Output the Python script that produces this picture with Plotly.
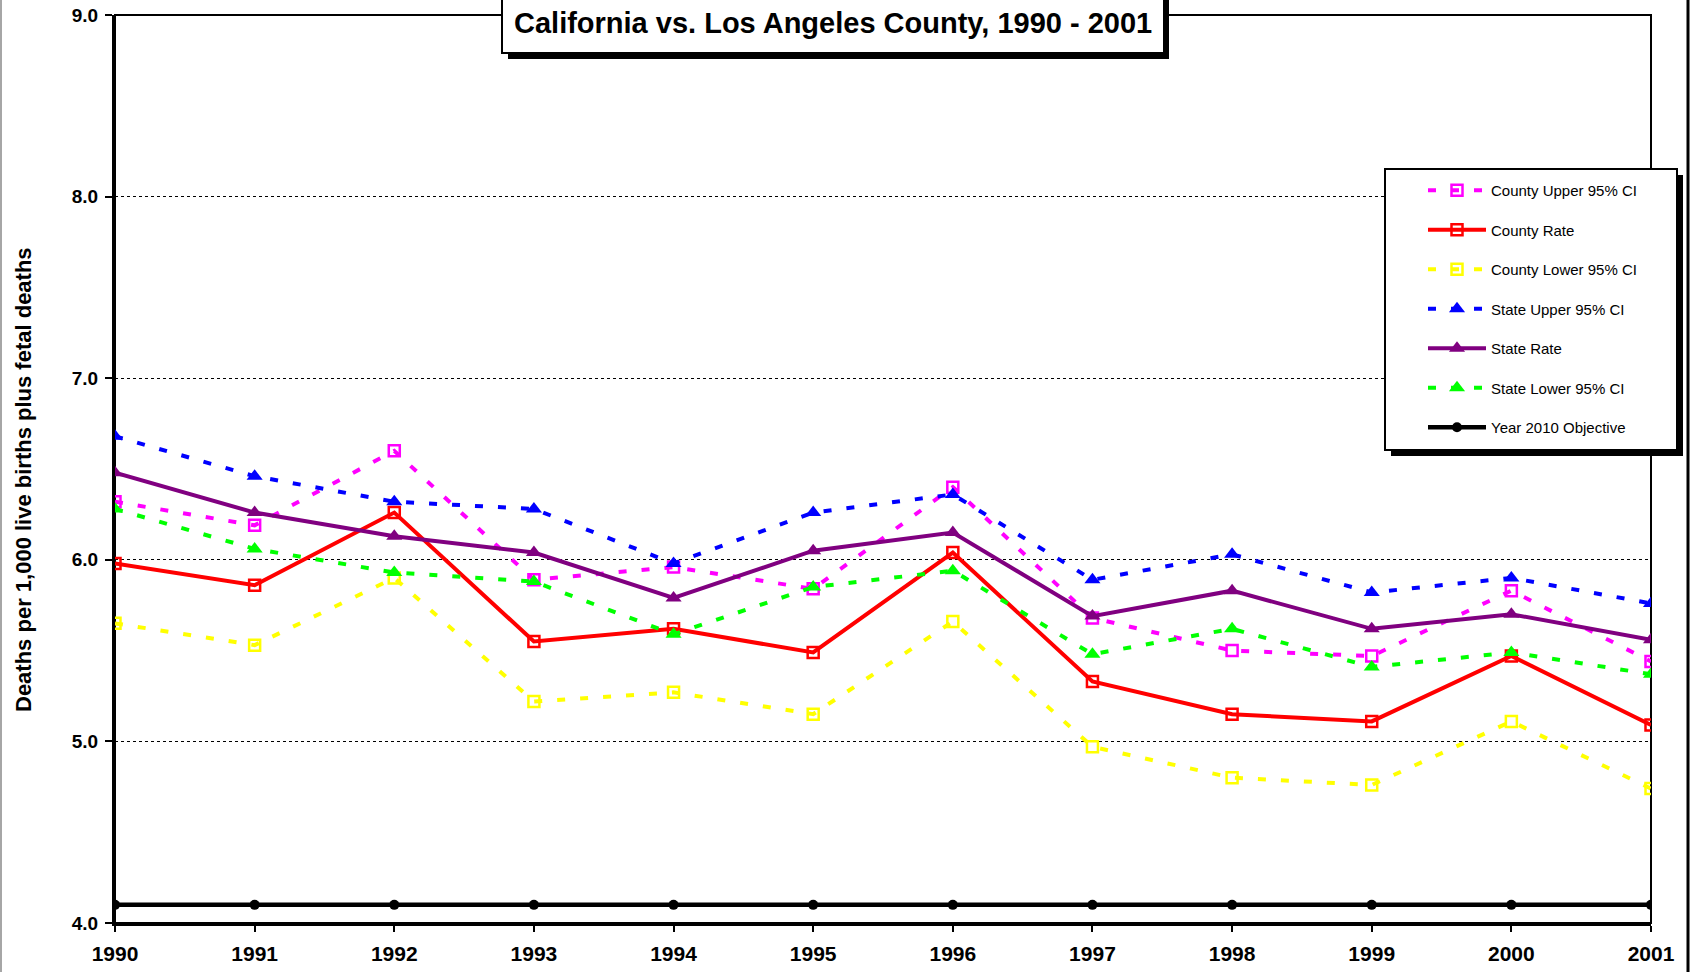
import plotly.graph_objects as go

years = list(range(1990, 2002))
year_labels = [str(y) for y in years]
county_upper = [6.32, 6.19, 6.60, 5.89, 5.96, 5.84, 6.40, 5.68, 5.50, 5.47, 5.83, 5.44]
county_rate = [5.98, 5.86, 6.26, 5.55, 5.62, 5.49, 6.04, 5.33, 5.15, 5.11, 5.47, 5.09]
county_lower = [5.65, 5.53, 5.90, 5.22, 5.27, 5.15, 5.66, 4.97, 4.80, 4.76, 5.11, 4.74]
state_upper = [6.68, 6.46, 6.32, 6.28, 5.98, 6.26, 6.36, 5.89, 6.03, 5.82, 5.90, 5.76]
state_rate = [6.48, 6.26, 6.13, 6.04, 5.79, 6.05, 6.15, 5.69, 5.83, 5.62, 5.70, 5.56]
state_lower = [6.28, 6.06, 5.93, 5.88, 5.59, 5.85, 5.94, 5.48, 5.62, 5.41, 5.49, 5.37]
objective = [4.1] * 12

series_names = ["County Upper 95% CI", "County Rate", "County Lower 95% CI",
                "State Upper 95% CI", "State Rate", "State Lower 95% CI",
                "Year 2010 Objective"]
title_text = "California vs. Los Angeles County, 1990 - 2001"
y_title = "Deaths per 1,000 live births plus fetal deaths"

W, H = 1690, 972
L, R, T, B = 115, 1651, 15, 923


def px(x):
    return (x - L) / (R - L)


def py(y):
    return (B - y) / (B - T)


DASH = "8px,15px"
specs = [
    (county_upper, "#FF00FF", DASH, "square-open", 11, 4),
    (county_rate, "#FF0000", "solid", "square-open", 11, 4),
    (county_lower, "#FFFF00", DASH, "square-open", 11, 4),
    (state_upper, "#0000FF", DASH, "triangle-up", 14, 4),
    (state_rate, "#800080", "solid", "triangle-up", 14, 4),
    (state_lower, "#00FF00", DASH, "triangle-up", 14, 4),
    (objective, "#000000", "solid", "circle", 10, 4.5),
]

fig = go.Figure()
for i, (vals, col, dash, sym, size, lw) in enumerate(specs):
    fig.add_trace(go.Scatter(
        x=years, y=vals, name=series_names[i], mode="lines+markers",
        legendgroup=f"g{i}",
        line=dict(color=col, width=lw, dash=dash),
        marker=dict(symbol=sym, size=size, color=col,
                    line=dict(color=col, width=2.5 if "open" in sym else 0)),
        hoverinfo="skip",
    ))

FAM = "Liberation Sans, Arial, sans-serif"
bold = dict(family=FAM, size=19, color="black", weight="bold")

fig.update_xaxes(
    range=[1990, 2001], tickvals=years, ticktext=year_labels,
    showline=True, linecolor="black", linewidth=3,
    ticks="outside", ticklen=6, tickwidth=1.5, tickcolor="black",
    tickfont=dict(bold, size=21), ticklabelstandoff=4,
    showgrid=False, zeroline=False,
)
fig.update_yaxes(
    range=[4, 9], dtick=1, tick0=4, tickformat=".1f",
    showline=True, linecolor="black", linewidth=3,
    ticks="outside", ticklen=7, tickwidth=1.5, tickcolor="black",
    tickfont=bold, ticklabelstandoff=3,
    showgrid=True, gridcolor="black", gridwidth=1, griddash="dot",
    zeroline=False,
)

shapes = [
    dict(type="rect", xref="paper", yref="paper", x0=0, x1=1, y0=0, y1=1,
         line=dict(color="black", width=2), layer="below"),
    dict(type="line", xref="paper", yref="paper", x0=px(1), x1=px(1), y0=py(-5), y1=py(980),
         line=dict(color="#888888", width=1.5), layer="above"),
    dict(type="line", xref="paper", yref="paper", x0=px(1688), x1=px(1688), y0=py(-5), y1=py(980),
         line=dict(color="black", width=3), layer="above"),
    dict(type="rect", xref="paper", yref="paper", x0=px(508), x1=px(1169), y0=py(59), y1=py(-20),
         fillcolor="black", line=dict(width=0), layer="above"),
    dict(type="rect", xref="paper", yref="paper", x0=px(502), x1=px(1164), y0=py(53), y1=py(-20),
         fillcolor="white", line=dict(color="black", width=2), layer="above"),
    dict(type="rect", xref="paper", yref="paper", x0=px(1391), x1=px(1683), y0=py(456), y1=py(175),
         fillcolor="black", line=dict(width=0), layer="above"),
    dict(type="rect", xref="paper", yref="paper", x0=px(1385), x1=px(1677), y0=py(450), y1=py(169),
         fillcolor="white", line=dict(color="black", width=2), layer="above"),
]

annotations = [
    dict(text=title_text, xref="paper", yref="paper", x=px(833), y=py(23),
         xanchor="center", yanchor="middle", showarrow=False,
         font=dict(family=FAM, size=29, color="black", weight="bold")),
    dict(text=y_title, xref="paper", yref="paper", x=px(24), y=py(480),
         xanchor="center", yanchor="middle", showarrow=False, textangle=-90,
         font=dict(family=FAM, size=22, color="black", weight="bold")),
]

fig.update_layout(
    width=W, height=H,
    margin=dict(l=L, r=W - R, t=T, b=H - B, autoexpand=False),
    paper_bgcolor="white", plot_bgcolor="white",
    shapes=shapes, annotations=annotations,
    showlegend=True,
    legend=dict(x=px(1423), y=py(174), xanchor="left", yanchor="top",
                bgcolor="rgba(0,0,0,0)", borderwidth=0,
                font=dict(family=FAM, size=15, color="black"),
                itemwidth=58, tracegroupgap=17, itemclick=False, itemdoubleclick=False),
    hovermode=False,
)

fig.write_html("out.html", config={"displayModeBar": False},
               post_script="document.body.style.margin='0px';document.body.style.overflow='hidden';")
